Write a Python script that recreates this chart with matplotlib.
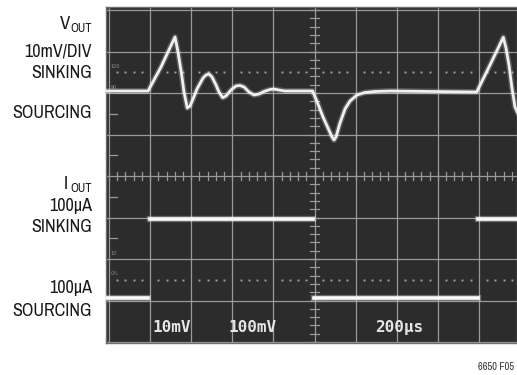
import matplotlib
matplotlib.use("Agg")
import matplotlib.pyplot as plt
from matplotlib import font_manager as fm

# ---------------- data (in screen divisions) ----------------
# Vout trace: time (div, 200us/div) and level (div, 10mV/div)
vout_t = [-0.1, 0.949, 1.265, 1.606, 1.679, 1.769, 1.825, 1.905, 1.971, 2.044,
          2.141, 2.287, 2.360, 2.433, 2.506, 2.603, 2.676, 2.766, 2.847, 2.968,
          3.090, 3.187, 3.285, 3.406, 3.528, 3.650, 3.771, 3.917, 4.015, 4.136,
          4.282, 4.956, 4.964, 5.085, 5.207, 5.328, 5.426, 5.474, 5.523, 5.620,
          5.742, 5.864, 6.034, 6.229, 6.472, 6.837, 8.946, 9.270, 9.594, 9.659,
          9.732, 9.805, 9.878, 10.0]
vout_v = [2.048, 2.048, 2.627, 3.349, 2.988, 2.434, 2.024, 1.639, 1.687, 1.855,
          2.096, 2.361, 2.434, 2.458, 2.386, 2.193, 2.024, 1.887, 1.928, 2.072,
          2.169, 2.181, 2.145, 2.024, 1.952, 1.976, 2.036, 2.084, 2.096, 2.072,
          2.048, 2.048, 2.024, 1.735, 1.422, 1.157, 0.940, 0.867, 0.940, 1.277,
          1.614, 1.807, 1.952, 2.012, 2.036, 2.048, 2.024, 2.675, 3.342, 3.084,
          2.675, 2.120, 1.663, 1.400]

# Iout trace: horizontal segments (start, end) and level
iout_start = [-0.1, 0.99, 4.99, 8.99]
iout_end = [0.95, 4.97, 8.97, 10.0]
iout_level = [-2.95, -1.03, -2.95, -1.03]

left_labels = ["10mV/DIV", "SINKING", "SOURCING", "100µA", "SINKING", "100µA", "SOURCING"]
screen_texts = ["10mV", "100mV", "200µs"]
edge_marks = ["100", "90", "10", "0%"]

# ---------------- fonts ----------------
names = {f.name for f in fm.fontManager.ttflist}
LFONT, lscale = "Liberation Sans", 0.85
for cand in ["Liberation Sans Narrow", "Archivo Narrow", "Asap Condensed", "Barlow Condensed"]:
    if cand in names:
        LFONT, lscale = cand, 1.0
        break

W, H = 517, 375
fig = plt.figure(figsize=(W / 100, H / 100), dpi=100)
fig.patch.set_facecolor("white")

# screen axes: pixel 106..517 (x), 7..343 (y)
x0, x1, y0, y1 = 106, 517, 7, 343
ax = fig.add_axes([x0 / W, 1 - y1 / H, (x1 - x0) / W, (y1 - y0) / H])
px_per_div_x = 41.1
px_per_div_y = 41.5
ax.set_xlim((x0 - 109) / px_per_div_x, (x1 - 109) / px_per_div_x)
ax.set_ylim((176 - y1) / px_per_div_y, (176 - y0) / px_per_div_y)
ax.set_facecolor("#2c2c2c")
for s in ax.spines.values():
    s.set_color("#6e6e6e")
    s.set_linewidth(1.0)
ax.set_xticks([])
ax.set_yticks([])

gcol = "#9a9a9a"
for k in range(0, 11):
    ax.axvline(k, color=gcol, lw=0.9, zorder=1)
for k in range(-4, 5):
    ax.axhline(k, color=gcol, lw=0.9, zorder=1)

# center-line minor ticks
for i in range(0, 51):
    t = i * 0.2
    ax.plot([t, t], [-0.1, 0.1], color=gcol, lw=0.9, zorder=1)
for i in range(-20, 21):
    v = i * 0.2
    ax.plot([4.9, 5.1], [v, v], color=gcol, lw=0.9, zorder=1)
# left edge half-division marks
for v in [1.5, 0.5, -0.5, -1.5]:
    ax.plot([0, 0.2], [v, v], color=gcol, lw=0.9, zorder=1)

# dotted 0% / 100% lines
dots = [i * 0.2 for i in range(0, 51) if i % 5 != 0]
for lvl in [2.5, -2.5]:
    ax.plot(dots, [lvl] * len(dots), ls="none", marker="s", ms=1.4,
            mew=0, color="#a2a2a2", zorder=1)

# small edge marks
mark_pos = [2.5, 2.0, -2.0, -2.5]
for txt, v in zip(edge_marks, mark_pos):
    ax.text(0.04, v + 0.08, txt, fontsize=3.5, color="#8c8c8c",
            ha="left", va="bottom", family="DejaVu Sans", zorder=2)

# traces
ax.plot(vout_t, vout_v, color="white", lw=4.2, alpha=0.22, zorder=3,
        solid_joinstyle="round", solid_capstyle="round")
ax.plot(vout_t, vout_v, color="#f0f0f0", lw=2.0, zorder=4,
        solid_joinstyle="round", solid_capstyle="round")
for a, b, lv in zip(iout_start, iout_end, iout_level):
    ax.plot([a, b], [lv, lv], color="white", lw=4.5, alpha=0.3, zorder=3)
    ax.plot([a, b], [lv, lv], color="#fafafa", lw=2.6, zorder=4)

# screen readout text
text_x = [1.07, 2.90, 6.47]
for txt, tx in zip(screen_texts, text_x):
    ax.text(tx, -3.66, txt, ha="left", va="center", color="#e6e6e6",
            fontsize=11.5, family="DejaVu Sans Mono", weight="bold", zorder=5)

# left labels
def ftext(x, y, s, size, ha="right", **kw):
    fig.text(x / W, 1 - y / H, s, ha=ha, va="center", fontsize=size * lscale,
             family=LFONT, color="#1a1a1a", **kw)

label_y = [52, 73, 113, 206, 227, 288, 311]
for s, y in zip(left_labels, label_y):
    ftext(92, y, s, 13)

# V_OUT and I_OUT
ftext(92, 28, "OUT", 9)
ftext(70, 24, "V", 13.5)
ftext(92, 188, "OUT", 9)
ftext(68, 184, "I", 13.5)

# figure number
fig.text(514 / W, 1 - 367 / H, "6650 F05", ha="right", va="center",
         fontsize=7.5 * lscale, family=LFONT, color="#333333")

fig.savefig("out.png", dpi=100, facecolor="white")
